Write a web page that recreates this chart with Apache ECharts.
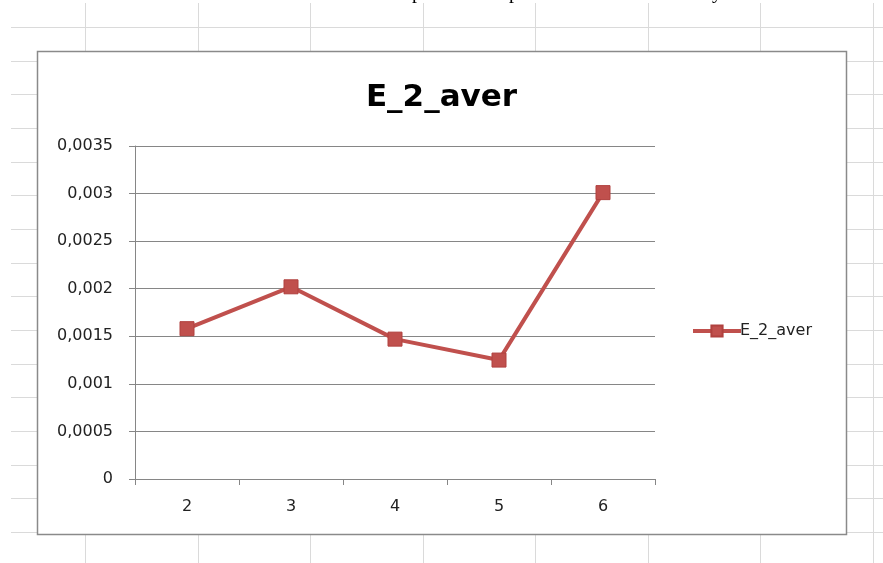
<!DOCTYPE html>
<html>
<head>
<meta charset="utf-8">
<script src="https://cdn.jsdelivr.net/npm/echarts@6/dist/echarts.min.js"></script>
<style>
html,body{margin:0;padding:0;background:#fff;}
#chart{width:883px;height:563px;}
</style>
</head>
<body>
<div id="chart"></div>
<script>
// ---- data ----
var chartTitle = 'E_2_aver';
var seriesName = 'E_2_aver';
var categories = ['2', '3', '4', '5', '6'];
var values = [0.00158, 0.00202, 0.00147, 0.00125, 0.00301];
var yMin = 0;
var yMax = 0.0035;
var yStep = 0.0005;
var yTickLabels = ['0', '0,0005', '0,001', '0,0015', '0,002', '0,0025', '0,003', '0,0035'];

// ---- spreadsheet background (decorative) ----
var bg = [];
var gridColor = '#dadada';
for (var k = 0; k < 16; k++) {
  var yy = Math.round(27 + k * 33.67) + 0.5;
  bg.push({type: 'line', z: -20, silent: true,
    shape: {x1: 11, y1: yy, x2: 883, y2: yy},
    style: {stroke: gridColor, lineWidth: 1}});
}
for (var j = 0; j < 8; j++) {
  var xx = Math.round(85 + j * 112.5) + 0.5;
  bg.push({type: 'line', z: -20, silent: true,
    shape: {x1: xx, y1: 3, x2: xx, y2: 563},
    style: {stroke: gridColor, lineWidth: 1}});
}
// chart frame
bg.push({type: 'rect', z: -10, silent: true,
  shape: {x: 37.5, y: 51.5, width: 809, height: 483},
  style: {fill: '#ffffff', stroke: '#8a8a8a', lineWidth: 1.5}});
// cut-off document text at the very top (only descenders visible)
[['р', 412], ['р', 509], ['у', 712]].forEach(function (t) {
  bg.push({type: 'text', z: -5, silent: true, x: t[1], y: -17,
    style: {text: t[0], font: '20px "Liberation Serif"', fill: '#000'}});
});

var chart = echarts.init(document.getElementById('chart'), null, {renderer: 'canvas'});
chart.setOption({
  animation: false,
  backgroundColor: '#ffffff',
  title: {
    text: chartTitle,
    left: 'center',
    top: 77,
    textStyle: {fontFamily: 'DejaVu Sans', fontWeight: 'bold', fontSize: 31, color: '#000'}
  },
  graphic: bg,
  legend: {
    data: [seriesName],
    orient: 'vertical',
    left: 686,
    top: 318,
    itemWidth: 48,
    itemHeight: 14,
    itemGap: 4,
    lineStyle: {width: 4, color: '#c0504d'},
    textStyle: {fontFamily: 'DejaVu Sans', fontSize: 16, color: '#222', padding: [0, 0, 0, -6]}
  },
  grid: {left: 135, right: 228, top: 146, bottom: 84},
  xAxis: {
    type: 'category',
    data: categories,
    boundaryGap: true,
    axisLine: {lineStyle: {color: '#868686', width: 1}},
    axisTick: {show: true, length: 6, lineStyle: {color: '#868686'}},
    axisLabel: {fontFamily: 'DejaVu Sans', fontSize: 16, color: '#222', margin: 20}
  },
  yAxis: {
    type: 'value',
    min: yMin,
    max: yMax,
    interval: yStep,
    axisLine: {show: true, lineStyle: {color: '#868686', width: 1}},
    axisTick: {show: true, length: 6, lineStyle: {color: '#868686'}},
    splitLine: {show: true, lineStyle: {color: '#868686', width: 1}},
    axisLabel: {
      fontFamily: 'DejaVu Sans', fontSize: 16, color: '#222', margin: 22,
      formatter: function (v) { return yTickLabels[Math.round((v - yMin) / yStep)]; }
    }
  },
  series: [{
    name: seriesName,
    type: 'line',
    data: values,
    symbol: 'rect',
    symbolSize: 14,
    itemStyle: {color: '#c0504d', borderColor: '#b0413e', borderWidth: 1},
    lineStyle: {color: '#c0504d', width: 4}
  }]
});
</script>
</body>
</html>
